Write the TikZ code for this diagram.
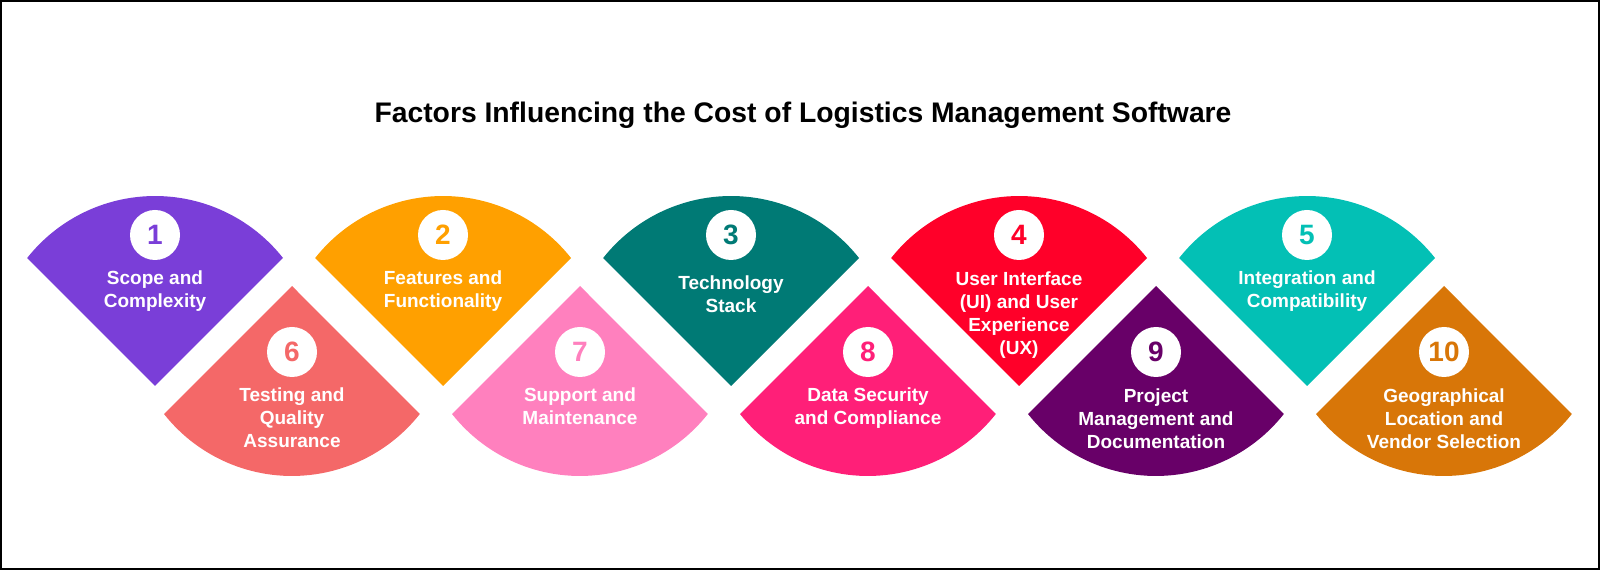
\documentclass[tikz,border=0pt]{standalone}
\usepackage{fontspec}
\setmainfont{Liberation Sans}
\usetikzlibrary{positioning}

\definecolor{cScope}{HTML}{7A3ED8}
\definecolor{cFeat}{HTML}{FFA000}
\definecolor{cTech}{HTML}{007A75}
\definecolor{cUser}{HTML}{FF0029}
\definecolor{cInteg}{HTML}{03C0B5}
\definecolor{cTest}{HTML}{F46868}
\definecolor{cSupp}{HTML}{FF80BE}
\definecolor{cData}{HTML}{FF1F78}
\definecolor{cProj}{HTML}{680068}
\definecolor{cGeo}{HTML}{D87608}

\tikzset{
  numdisc/.style={circle, fill=white, minimum size=50pt, inner sep=0pt,
    font=\fontsize{28}{28}\selectfont\bfseries},
  factortext/.style={anchor=north, inner sep=0pt, align=center, text=white,
    font=\fontsize{19}{23}\selectfont\bfseries},
  headline/.style={anchor=base, inner sep=0pt,
    font=\fontsize{28.3}{32}\selectfont\bfseries}
}

\begin{document}
\begin{tikzpicture}[x=1pt, y=1pt]
        \useasboundingbox (0,0) rectangle (1600,570);
        \draw[line width=2pt] (1,1) rectangle (1599,569);
        \node[headline] (title) at (803, 447) {Factors Influencing the Cost of Logistics Management Software};
        % upper row
        \fill[cScope] (155,184) -- ++(128,128) arc (38.3:141.7:163pt) -- cycle;
        \fill[cFeat] (443,184) -- ++(128,128) arc (38.3:141.7:163pt) -- cycle;
        \fill[cTech] (731,184) -- ++(128,128) arc (38.3:141.7:163pt) -- cycle;
        \fill[cUser] (1019,184) -- ++(128,128) arc (38.3:141.7:163pt) -- cycle;
        \fill[cInteg] (1307,184) -- ++(128,128) arc (38.3:141.7:163pt) -- cycle;
        % lower row
        \fill[cTest] (292,284) -- ++(-128,-128) arc (218.3:321.7:163pt) -- cycle;
        \fill[cSupp] (580,284) -- ++(-128,-128) arc (218.3:321.7:163pt) -- cycle;
        \fill[cData] (868,284) -- ++(-128,-128) arc (218.3:321.7:163pt) -- cycle;
        \fill[cProj] (1156,284) -- ++(-128,-128) arc (218.3:321.7:163pt) -- cycle;
        \fill[cGeo] (1444,284) -- ++(-128,-128) arc (218.3:321.7:163pt) -- cycle;
        % numbers
        \node[numdisc, text=cScope] (n1) at (155,335) {1};
        \node[numdisc, text=cFeat] (n2) at (443,335) {2};
        \node[numdisc, text=cTech] (n3) at (731,335) {3};
        \node[numdisc, text=cUser] (n4) at (1019,335) {4};
        \node[numdisc, text=cInteg] (n5) at (1307,335) {5};
        \node[numdisc, text=cTest] (n6) at (292,218) {6};
        \node[numdisc, text=cSupp] (n7) at (580,218) {7};
        \node[numdisc, text=cData] (n8) at (868,218) {8};
        \node[numdisc, text=cProj] (n9) at (1156,218) {9};
        \node[numdisc, text=cGeo] (n10) at (1444,218) {10};
        % labels
        \node[factortext] (t1) at (155,299) {Scope and\\Complexity};
        \node[factortext] (t2) at (443,299) {Features and\\Functionality};
        \node[factortext] (t3) at (731,294) {Technology\\Stack};
        \node[factortext] (t4) at (1019,298) {User Interface\\(UI) and User\\Experience\\(UX)};
        \node[factortext] (t5) at (1307,299) {Integration and\\Compatibility};
        \node[factortext] (t6) at (292,182) {Testing and\\Quality\\Assurance};
        \node[factortext] (t7) at (580,182) {Support and\\Maintenance};
        \node[factortext] (t8) at (868,182) {Data Security\\and Compliance};
        \node[factortext] (t9) at (1156,181) {Project\\Management and\\Documentation};
        \node[factortext] (t10) at (1444,181) {Geographical\\Location and\\Vendor Selection};
    \end{tikzpicture}
\end{document}
